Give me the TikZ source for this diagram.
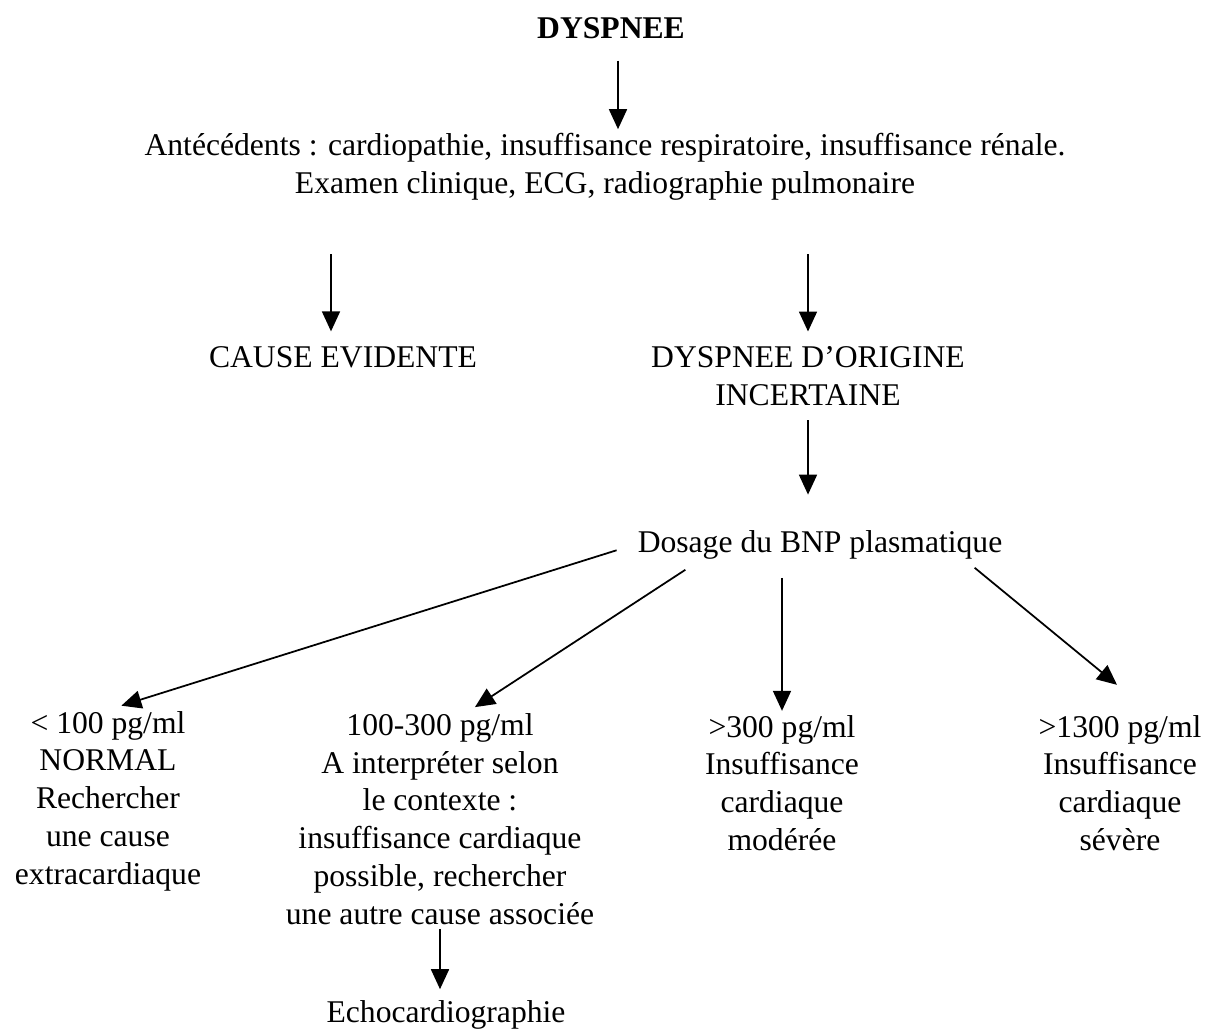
\documentclass[tikz,border=0pt]{standalone}
\usepackage{fontspec}
\setmainfont{Liberation Serif}
\usetikzlibrary{calc,arrows.meta}

\begin{document}
\begin{tikzpicture}[x=0.02cm,y=-0.02cm,->,>={Triangle[length=0.4cm,width=0.36cm]},
                    line width=1pt,font=\fontsize{18}{21.5}\selectfont]
  \tikzstyle{txt}=[align=center,inner sep=2pt]
  \useasboundingbox (0,0) rectangle (1212,1034);

  \node[txt,font=\fontsize{18}{21.5}\selectfont\bfseries] (dyspnee) at (611,28) {DYSPNEE};
  \node[txt] (antecedents) at (605,167)
    {Antécédents : cardiopathie, insuffisance respiratoire, insuffisance rénale.\\
     Examen clinique, ECG, radiographie pulmonaire};
  \node[txt] (cause)      at (343,357) {CAUSE EVIDENTE};
  \node[txt] (incertaine) at (808,376) {DYSPNEE D’ORIGINE\\INCERTAINE};
  \node[txt] (dosage)     at (820,545) {Dosage du BNP plasmatique};

  \node[txt] (normal)   at (108,801) {< 100 pg/ml\\NORMAL\\Rechercher\\une cause\\extracardiaque};
  \node[txt] (contexte) at (440,819) {100-300 pg/ml\\A interpréter selon\\le contexte :\\
    insuffisance cardiaque\\possible, rechercher\\une autre cause associée};
  \node[txt] (moderee)  at (782,783) {>300 pg/ml\\Insuffisance\\cardiaque\\modérée};
  \node[txt] (severe)   at (1120,783) {>1300 pg/ml\\Insuffisance\\cardiaque\\sévère};
  \node[txt] (echo)     at (446,1015) {Echocardiographie};

  \draw[shorten <=10pt] ($(dyspnee.south)+(7,0)$) -- ($(dyspnee.south |- antecedents.north)+(7,0)$);
  \draw[shorten <=28pt,shorten >=6pt] ($(cause.north |- antecedents.south)+(-12,0)$) -- ($(cause.north)+(-12,0)$);
  \draw[shorten <=28pt,shorten >=6pt] (incertaine.north |- antecedents.south) -- (incertaine.north);
  \draw[shorten <=6pt,shorten >=18pt] (incertaine.south) -- (incertaine.south |- dosage.north);

  \draw[shorten <=10pt,shorten >=2pt] (dosage.west) -- ($(normal.north)+(10,0)$);
  \draw[shorten >=2pt] ($(dosage.south west)+(52,6)$) -- ($(contexte.north)+(32,0)$);
  \draw[shorten <=8pt] (moderee.north |- dosage.south) -- (moderee.north);
  \draw ($(dosage.south east)+(-32,4)$) -- ($(severe.north)+(-3,-26)$);
  \draw[shorten >=4pt] (contexte.south) -- (contexte.south |- echo.north);
\end{tikzpicture}
\end{document}
